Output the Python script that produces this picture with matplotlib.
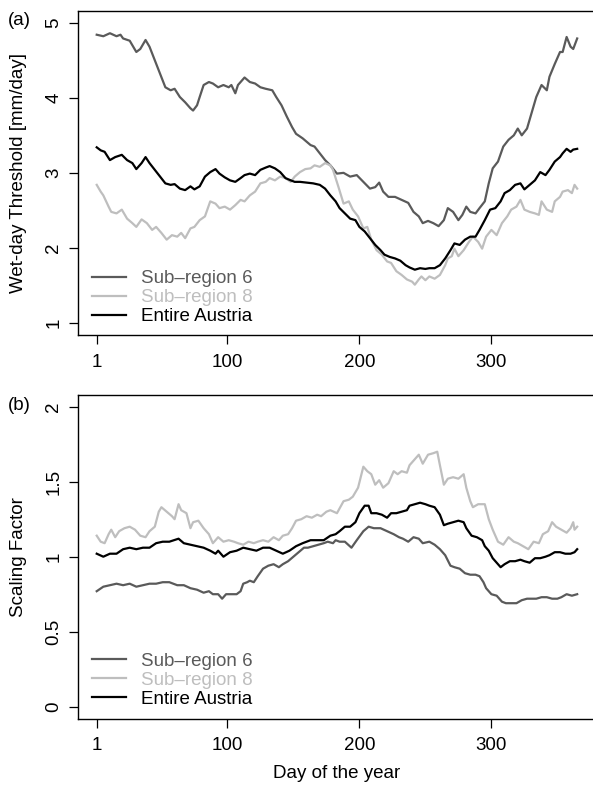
import matplotlib
matplotlib.use("Agg")
import matplotlib.pyplot as plt

plt.rcParams["font.family"] = ["Liberation Sans", "DejaVu Sans"]

# ---- (a) wet-day threshold [mm/day] ----
thr_sub6_days = [1, 6, 11, 16, 19, 21, 26, 31, 34, 38, 41, 45, 49, 53, 57, 60, 64, 68, 72, 74,
                 77, 79, 82, 86, 89, 93, 97, 101, 103, 106, 108, 113, 117, 121, 125, 129, 134, 137, 141, 145,
                 149, 152, 157, 163, 166, 170, 174, 178,
                 183, 188, 193, 198, 203, 208, 212, 215, 218, 222, 227, 232, 237, 241, 245, 248, 252, 256, 260, 264,
                 267, 271, 275, 278, 281, 284, 288, 291, 295, 298, 301, 305, 309, 313, 317, 320, 323, 327, 331, 334,
                 338, 342, 344, 348, 352, 354, 357, 360, 362, 365]
thr_sub6 = [4.84, 4.82, 4.86, 4.82, 4.84, 4.79, 4.76, 4.61, 4.65, 4.77, 4.68, 4.50, 4.32, 4.14, 4.10, 4.12, 4.01, 3.94, 3.86, 3.83,
            3.90, 4.01, 4.17, 4.21, 4.19, 4.14, 4.17, 4.14, 4.17, 4.06, 4.17, 4.27, 4.21, 4.19, 4.14, 4.12, 4.10, 4.01, 3.90, 3.75,
            3.61, 3.52, 3.46, 3.37, 3.35, 3.26, 3.17, 3.10,
            2.99, 3.00, 2.95, 2.97, 2.88, 2.79, 2.81, 2.87, 2.75, 2.68, 2.68, 2.64, 2.60, 2.48, 2.42, 2.33, 2.36, 2.33, 2.29, 2.37,
            2.53, 2.48, 2.37, 2.44, 2.55, 2.48, 2.46, 2.53, 2.62, 2.86, 3.06, 3.15, 3.35, 3.44, 3.50, 3.59, 3.50, 3.59, 3.83, 4.01,
            4.17, 4.10, 4.28, 4.45, 4.61, 4.61, 4.81, 4.68, 4.65, 4.79]

thr_sub8_days = [1, 4, 6, 10, 12, 16, 20, 24, 28, 31, 35, 39, 43, 46, 50, 54, 58, 62, 65, 68,
                 72, 75, 79, 83, 87, 91, 94, 98, 102, 106, 110, 113, 117, 121, 125, 129, 132, 136, 140, 144,
                 148, 151, 155, 159, 163, 166, 170, 174, 178,
                 180, 184, 188, 192, 195, 199, 203, 206, 209, 213, 217, 221, 224, 228, 232, 236, 240, 242, 245, 247,
                 250, 253, 257, 261, 265, 267, 270, 272, 275, 279, 283, 286, 290, 293, 296, 300, 304, 308, 312, 315,
                 319, 322, 325, 329, 333, 336, 338, 342, 346, 348, 352, 354, 358, 361, 363, 365]
thr_sub8 = [2.84, 2.75, 2.70, 2.55, 2.48, 2.46, 2.51, 2.39, 2.33, 2.28, 2.38, 2.33, 2.24, 2.28, 2.20, 2.11, 2.17, 2.15, 2.20, 2.13,
            2.26, 2.28, 2.37, 2.42, 2.62, 2.59, 2.53, 2.55, 2.51, 2.57, 2.64, 2.62, 2.70, 2.75, 2.86, 2.88, 2.93, 2.90, 2.95, 2.93,
            2.88, 2.95, 3.01, 3.05, 3.06, 3.10, 3.08, 3.13, 3.10,
            3.04, 2.82, 2.59, 2.62, 2.51, 2.42, 2.26, 2.28, 2.11, 1.97, 1.91, 1.82, 1.80, 1.69, 1.64, 1.58, 1.55, 1.51, 1.58, 1.62,
            1.57, 1.62, 1.59, 1.64, 1.77, 1.86, 1.89, 1.99, 1.89, 1.97, 2.08, 2.15, 2.08, 1.99, 2.15, 2.24, 2.17, 2.33, 2.42, 2.51,
            2.55, 2.64, 2.51, 2.48, 2.46, 2.44, 2.62, 2.51, 2.48, 2.62, 2.68, 2.75, 2.77, 2.73, 2.84, 2.79]

thr_aut_days = [1, 4, 7, 11, 15, 20, 24, 28, 31, 35, 38, 41, 45, 49, 53, 57, 60, 64, 68, 72,
                75, 79, 83, 87, 91, 94, 98, 102, 106, 110, 113, 117, 121, 125, 129, 132, 136, 140, 144, 148,
                151, 155, 160, 165, 170, 174,
                178, 182, 185, 189, 193, 197, 200, 204, 208, 212, 216, 219, 223, 227, 231, 235, 238, 242, 246, 250,
                253, 257, 261, 265, 269, 272, 276, 280, 284, 288, 291, 295, 299, 303, 307, 310, 314, 318, 322, 325,
                329, 333, 337, 341, 344, 348, 352, 354, 357, 360, 362, 365]
thr_aut = [3.34, 3.30, 3.28, 3.17, 3.21, 3.24, 3.17, 3.13, 3.05, 3.13, 3.21, 3.13, 3.04, 2.95, 2.86, 2.84, 2.85, 2.79, 2.77, 2.82,
           2.78, 2.82, 2.95, 3.01, 3.05, 2.99, 2.94, 2.90, 2.88, 2.93, 2.97, 2.99, 2.97, 3.04, 3.07, 3.09, 3.06, 3.01, 2.93, 2.90,
           2.88, 2.88, 2.87, 2.86, 2.84, 2.79,
           2.70, 2.62, 2.53, 2.46, 2.39, 2.37, 2.28, 2.22, 2.13, 2.04, 1.97, 1.91, 1.88, 1.86, 1.83, 1.77, 1.74, 1.71, 1.73, 1.72,
           1.73, 1.73, 1.77, 1.86, 1.97, 2.06, 2.04, 2.11, 2.15, 2.15, 2.24, 2.37, 2.51, 2.53, 2.62, 2.73, 2.77, 2.84, 2.86, 2.78,
           2.84, 2.90, 3.01, 2.97, 3.04, 3.15, 3.21, 3.26, 3.32, 3.28, 3.31, 3.32]

# ---- (b) scaling factor ----
sf_sub6_days = [1, 6, 11, 16, 21, 26, 31, 36, 41, 46, 51, 56, 62, 67, 72, 77, 82, 86, 89, 93,
                96, 99, 103, 107, 110, 112, 115, 117, 120, 123, 127, 131, 135, 139, 142, 146, 150, 154, 158, 161,
                165, 169, 173, 176,
                180, 182, 185, 189, 194, 198, 203, 207, 211, 216, 221, 226, 230, 233, 237, 241, 245, 248, 253, 257,
                261, 265, 269, 272, 276, 280, 284, 288, 291, 294, 296, 300, 304, 308, 311, 315, 319, 323, 327, 331,
                334, 338, 342, 346, 350, 353, 357, 361, 365]
sf_sub6 = [0.77, 0.80, 0.81, 0.82, 0.81, 0.82, 0.80, 0.81, 0.82, 0.82, 0.83, 0.83, 0.81, 0.81, 0.79, 0.78, 0.76, 0.77, 0.75, 0.75,
           0.72, 0.75, 0.75, 0.75, 0.77, 0.82, 0.83, 0.84, 0.83, 0.87, 0.92, 0.94, 0.95, 0.93, 0.95, 0.97, 1.00, 1.03, 1.06, 1.06,
           1.07, 1.08, 1.09, 1.10,
           1.09, 1.11, 1.10, 1.10, 1.06, 1.11, 1.17, 1.20, 1.19, 1.19, 1.17, 1.15, 1.13, 1.12, 1.10, 1.13, 1.12, 1.09, 1.10, 1.08,
           1.05, 1.01, 0.94, 0.93, 0.92, 0.89, 0.88, 0.88, 0.87, 0.83, 0.79, 0.75, 0.74, 0.70, 0.69, 0.69, 0.69, 0.71, 0.72, 0.72,
           0.72, 0.73, 0.73, 0.72, 0.72, 0.73, 0.75, 0.74, 0.75]

sf_sub8_days = [1, 4, 7, 10, 12, 15, 18, 22, 26, 30, 34, 38, 41, 45, 48, 50, 54, 58, 60, 63,
                65, 69, 72, 74, 78, 82, 86, 89, 93, 97, 101, 105, 108, 112, 116, 120, 123, 127, 131, 135,
                139, 142, 146, 149, 152, 156, 160, 164, 168, 171, 175,
                178, 183, 188, 192, 195, 199, 203, 206, 209, 212, 215, 218, 222, 226, 229, 232, 236, 238, 242, 245,
                248, 252, 256, 259, 261, 264, 267, 271, 275, 279, 281, 284, 286, 290, 295, 298, 301, 305, 309, 313,
                317, 320, 324, 328, 332, 336, 339, 343, 346, 349, 353, 357, 360, 362, 363, 365]
sf_sub8 = [1.14, 1.10, 1.09, 1.15, 1.18, 1.13, 1.17, 1.19, 1.20, 1.18, 1.14, 1.13, 1.17, 1.20, 1.30, 1.33, 1.30, 1.27, 1.25, 1.35,
           1.31, 1.29, 1.19, 1.23, 1.24, 1.19, 1.15, 1.09, 1.13, 1.10, 1.11, 1.10, 1.09, 1.08, 1.10, 1.09, 1.10, 1.11, 1.10, 1.13,
           1.11, 1.14, 1.15, 1.19, 1.24, 1.25, 1.27, 1.26, 1.28, 1.27, 1.30,
           1.31, 1.29, 1.37, 1.38, 1.40, 1.46, 1.60, 1.57, 1.55, 1.48, 1.51, 1.46, 1.49, 1.57, 1.55, 1.57, 1.56, 1.61, 1.65, 1.68,
           1.62, 1.68, 1.69, 1.70, 1.61, 1.48, 1.52, 1.53, 1.52, 1.55, 1.46, 1.37, 1.33, 1.35, 1.35, 1.25, 1.18, 1.10, 1.08, 1.13,
           1.10, 1.09, 1.07, 1.05, 1.10, 1.09, 1.15, 1.17, 1.23, 1.20, 1.18, 1.16, 1.19, 1.23, 1.18, 1.20]

sf_aut_days = [1, 6, 11, 16, 21, 26, 31, 36, 41, 46, 51, 56, 63, 67, 72, 77, 82, 87, 91, 93,
               97, 102, 107, 112, 117, 122, 127, 132, 137, 142, 147, 152, 157, 163, 168, 173,
               178, 182, 185, 189, 193, 197, 200, 204, 207, 209, 213, 217, 221, 224, 228, 232, 236, 238, 242, 246,
               250, 253, 257, 261, 264, 267, 271, 275, 279, 281, 285, 289, 293, 295, 298, 301, 304, 307, 310, 314,
               318, 322, 325, 329, 333, 337, 341, 344, 348, 352, 356, 360, 363, 365]
sf_aut = [1.02, 1.00, 1.02, 1.02, 1.05, 1.06, 1.05, 1.06, 1.06, 1.09, 1.10, 1.10, 1.12, 1.09, 1.08, 1.07, 1.06, 1.04, 1.02, 1.04,
          1.00, 1.03, 1.04, 1.06, 1.05, 1.04, 1.06, 1.06, 1.04, 1.02, 1.04, 1.07, 1.09, 1.11, 1.11, 1.11,
          1.14, 1.15, 1.17, 1.20, 1.20, 1.23, 1.29, 1.34, 1.34, 1.29, 1.29, 1.28, 1.26, 1.29, 1.29, 1.30, 1.31, 1.34, 1.35, 1.36,
          1.35, 1.34, 1.33, 1.28, 1.21, 1.22, 1.23, 1.24, 1.23, 1.19, 1.14, 1.13, 1.11, 1.07, 1.04, 0.99, 0.96, 0.93, 0.95, 0.97,
          0.97, 0.98, 0.97, 0.96, 0.99, 0.99, 1.00, 1.01, 1.03, 1.03, 1.02, 1.02, 1.03, 1.05]

series_labels = ["Sub\u2013region 6", "Sub\u2013region 8", "Entire Austria"]
series_colors = ["#5a5a5a", "#bebebe", "#000000"]

x_ticks = [1, 100, 200, 300]
thr_ticks = [1, 2, 3, 4, 5]
thr_ticklabels = ["1", "2", "3", "4", "5"]
sf_ticks = [0, 0.5, 1, 1.5, 2]
sf_ticklabels = ["0", "0.5", "1", "1.5", "2"]

FS = 13.5
W, H = 593, 785
fig = plt.figure(figsize=(W / 100, H / 100), dpi=100)

# axes boxes in pixels: left, right, top, bottom
left_px, right_px = 77.5, 596.4
ax_a = fig.add_axes([left_px / W, 1 - 335.0 / H, (right_px - left_px) / W, (335.0 - 10.7) / H])
ax_b = fig.add_axes([left_px / W, 1 - 718.7 / H, (right_px - left_px) / W, (718.7 - 394.7) / H])


def r_range(lo, hi):
    pad = 0.04 * (hi - lo)
    return lo - pad, hi + pad


def style(ax, yticks, yticklabels, ylim):
    ax.set_xlim(*r_range(1, 365))
    ax.set_ylim(*r_range(*ylim))
    ax.set_xticks(x_ticks)
    ax.set_xticklabels([str(t) for t in x_ticks])
    ax.set_yticks(yticks)
    ax.set_yticklabels(yticklabels, rotation=90, va="center")
    ax.tick_params(axis="both", direction="out", length=6.5, width=0.9, labelsize=FS, color="black")
    ax.tick_params(axis="x", pad=7.0)
    ax.tick_params(axis="y", pad=4.5)
    for sp in ax.spines.values():
        sp.set_linewidth(1.0)
        sp.set_color("black")
    ax.spines["right"].set_visible(False)


def draw(ax, days_list, vals_list):
    for d, v, lab, col in zip(days_list, vals_list, series_labels, series_colors):
        ax.plot(d, v, color=col, lw=1.6, label=lab, solid_joinstyle="round")


draw(ax_a, [thr_sub6_days, thr_sub8_days, thr_aut_days], [thr_sub6, thr_sub8, thr_aut])
draw(ax_b, [sf_sub6_days, sf_sub8_days, sf_aut_days], [sf_sub6, sf_sub8, sf_aut])

style(ax_a, thr_ticks, thr_ticklabels, (1, 5))
style(ax_b, sf_ticks, sf_ticklabels, (0, 2))

ax_a.set_ylabel("Wet-day Threshold [mm/day]", fontsize=FS)
ax_b.set_ylabel("Scaling Factor", fontsize=FS)
ax_a.yaxis.set_label_coords(-0.098, 0.5)
ax_b.yaxis.set_label_coords(-0.098, 0.5)
ax_b.set_xlabel("Day of the year", fontsize=FS)
ax_b.xaxis.set_label_coords(0.5, -0.142)

for ax, anchor_y in ((ax_a, 0.030), (ax_b, 0.033)):
    ax.legend(loc="lower left", bbox_to_anchor=(0.028, anchor_y), frameon=False, fontsize=FS,
              handlelength=1.8, handletextpad=0.8, labelspacing=0.1, borderpad=0.0,
              borderaxespad=0.0, labelcolor="linecolor")

fig.text(8 / W, 1 - 20.5 / H, "(a)", ha="left", va="center", fontsize=FS)
fig.text(8 / W, 1 - 405.5 / H, "(b)", ha="left", va="center", fontsize=FS)

fig.savefig("out.png", dpi=100)
